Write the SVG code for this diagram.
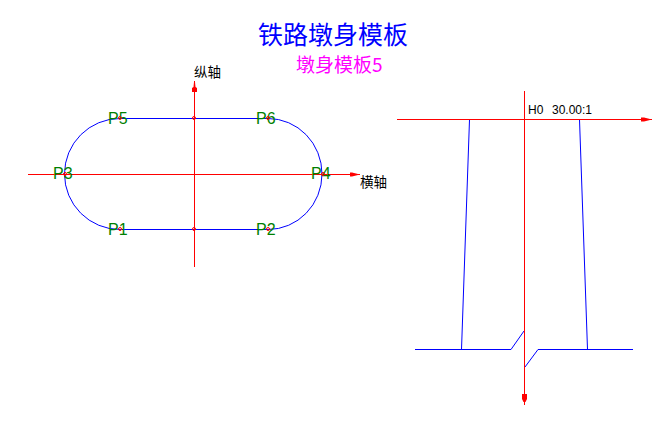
<svg xmlns="http://www.w3.org/2000/svg" width="668" height="422" viewBox="0 0 668 422">
<style>
text{font-family:"Noto Sans CJK SC","Liberation Sans",sans-serif}
.lat{font-family:"Liberation Sans",Arial,sans-serif}
.b{fill:none;stroke:#0000ff;stroke-width:1;shape-rendering:crispEdges}
.arc{fill:none;stroke:#0000ff;stroke-width:1}
.r{fill:none;stroke:#ff0000;stroke-width:1;shape-rendering:crispEdges}
.ah{fill:#ff0000;stroke:none}
.pt{fill:none;stroke:#ff0000;stroke-width:1}
.p{font-family:"Liberation Sans",Arial,sans-serif;font-size:16px;fill:#008000}
.ax{font-size:13.500px;fill:#000}
</style>
<rect width="668" height="422" fill="#ffffff"/>
<g id="titles">
<text x="333" y="44" font-size="25" fill="#0000ff" text-anchor="middle">铁路墩身模板</text>
<text x="296" y="72" font-size="19" fill="#ff00ff">墩身模板5</text>
</g>
<g id="connectors">
<path class="b" d="M120 118.500H268M120 229.500H268"/>
<path class="arc" d="M120 118.500A55.500 55.500 0 0 0 120 229.500M268 118.500A54 55.500 0 0 1 268 229.500"/>
<path class="r" d="M28 174.500H360M194.500 81V267"/>
<path class="ah" d="M194 82H195L195.500 87L197 88V92H192V88L193.500 87ZM358 174L352 172.500H350V176.500H352L358 175Z"/>
<path class="b" d="M415 349.500H511"/>
<path class="arc" d="M511 349.500L524 331M525 367L538 349.500"/>
<path class="b" d="M538 349.500H633"/>
<path class="arc" d="M469.500 119.500L461.500 349.500M579.500 119.500L587.500 349.500"/>
<path class="r" d="M397 119.500H652M524.500 91V405"/>
<path class="ah" d="M650 119L644 117.500H641V121.500H644L650 120ZM522 394H527V399L525.500 402H523.500L522 399Z"/>
</g>
<g id="P1"><text class="p" x="108" y="235">P1</text><circle class="pt" cx="120" cy="229" r="1.500"/></g>
<g id="P2"><text class="p" x="256" y="235">P2</text><circle class="pt" cx="268" cy="229" r="1.500"/></g>
<g id="P3"><text class="p" x="53" y="179">P3</text><circle class="pt" cx="65" cy="174" r="1.500"/></g>
<g id="P4"><text class="p" x="311" y="179">P4</text><circle class="pt" cx="323" cy="174" r="1.500"/></g>
<g id="P5"><text class="p" x="108" y="124">P5</text><circle class="pt" cx="120" cy="118" r="1.500"/></g>
<g id="P6"><text class="p" x="256" y="124">P6</text><circle class="pt" cx="268" cy="118" r="1.500"/></g>
<g id="axis-points"><circle class="pt" cx="194" cy="118" r="1.500"/><circle class="pt" cx="194" cy="229" r="1.500"/></g>
<g id="labels">
<text class="ax" x="194" y="77">纵轴</text>
<text class="ax" x="360" y="187">横轴</text>
<text class="lat" x="528" y="114" font-size="12" fill="#000">H0</text>
<text class="lat" x="552" y="114" font-size="12" fill="#000">30.00:1</text>
</g>
</svg>
